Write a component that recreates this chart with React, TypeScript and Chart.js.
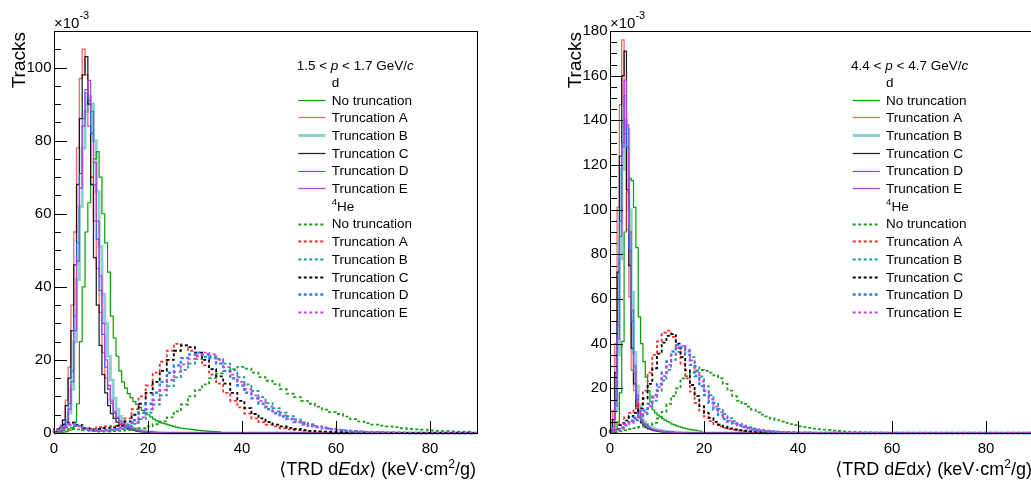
import React, { useEffect, useRef } from 'react';
import { Chart, registerables } from 'chart.js';

Chart.register(...registerables);

// ---------------- data ----------------
const X_MAX = 90;
const X_TICKS_MAX = 80;
const truncationLabels = ['No truncation', 'Truncation A', 'Truncation B', 'Truncation C', 'Truncation D', 'Truncation E'];

// Left panel: 1.5 < p < 1.7 GeV/c
const leftMomentum = ['1.5', '1.7'];
const leftYMax = 110;
const leftDBin = 0.6;
const leftHeBin = 1.5;
const leftDNone = [0, 0, 0.05, 0.1, 0.2, 0.4, 0.8, 1.5, 3, 8, 25, 40, 55, 63, 70, 75, 77, 70, 60, 52, 44, 32, 26, 21, 17, 14, 12.3, 10.8, 9.6, 8.6, 7.8, 7, 6.2, 5.6, 5, 4.4, 3.8, 3.3, 3, 2.7, 2.5, 2.2, 2, 1.8, 1.6, 1.4, 1.3, 1.2, 1.1, 1, 0.9, 0.8, 0.7, 0.65, 0.6, 0.5, 0.45, 0.4, 0.35, 0.3];
const leftDTruncA = [0, 0.1, 0.4, 1.2, 3.5, 9, 18, 35, 55, 78, 97, 105, 98, 84, 70, 58, 45, 33, 22, 15, 12, 8.5, 5.5, 4.2, 3.2, 2.5, 2, 1.6, 1.3, 1, 0.8, 0.6, 0.5, 0.4, 0.3, 0.25, 0.2, 0.15, 0.1, 0.08, 0.05];
const leftDTruncB = [0, 0.05, 0.15, 0.4, 1, 2.5, 5.5, 12, 25, 42, 62, 78, 88, 92, 90, 80, 66, 51, 38, 30, 21, 14.5, 9.5, 6.5, 4.5, 3.3, 2.5, 1.9, 1.5, 1.2, 0.9, 0.7, 0.55, 0.4, 0.3, 0.25, 0.2, 0.15, 0.1, 0.05];
const leftDTruncC = [0, 0.1, 0.5, 1.5, 3.5, 7.5, 15, 28, 46, 68, 86, 98, 103, 90, 68, 48, 35, 24, 16, 11, 7.5, 5.3, 4, 3, 2.3, 1.8, 1.4, 1.1, 0.9, 0.7, 0.5, 0.4, 0.3, 0.25, 0.2, 0.15, 0.1, 0.08, 0.05];
const leftDTruncD = [0, 0.05, 0.2, 0.6, 1.5, 3.5, 8, 17, 32, 52, 71, 86, 94, 91, 82, 68, 53, 39, 27, 18, 12, 8, 5.5, 4, 3, 2.3, 1.8, 1.4, 1.1, 0.9, 0.7, 0.5, 0.4, 0.3, 0.25, 0.2, 0.15, 0.1, 0.08, 0.05];
const leftDTruncE = [0, 0.05, 0.15, 0.5, 1.2, 3, 6.5, 14, 28, 47, 67, 84, 93, 96.5, 88, 74, 58, 43, 30, 20, 13, 9, 6, 4.3, 3.2, 2.5, 2, 1.6, 1.2, 1, 0.8, 0.6, 0.45, 0.35, 0.3, 0.2, 0.15, 0.1, 0.08, 0.05];
const leftHeNone = [0, 0.3, 0.8, 1.1, 1, 0.7, 0.5, 0.4, 0.4, 0.5, 0.6, 0.8, 1, 1.3, 1.8, 2.4, 3.2, 4.3, 5.9, 7.8, 10, 11.8, 13.3, 15, 16.3, 17, 17.5, 18.1, 17.6, 16.5, 15.3, 14.3, 13.4, 12, 10.8, 9.8, 8.8, 8, 7.2, 6.4, 5.7, 5.2, 4.5, 3.8, 3.2, 2.7, 2.3, 2, 1.8, 1.6, 1.3, 1.1, 1, 0.9, 0.7, 0.6, 0.5, 0.45, 0.4, 0.35];
const leftHeTruncA = [0.2, 1, 2.2, 2.6, 2, 1.2, 1.2, 1.6, 1.8, 1.9, 2.4, 4, 6.5, 10, 13, 16.5, 19.5, 22.5, 24.4, 24, 22.5, 21, 18.5, 16, 13.5, 11, 8.8, 7, 5.3, 4, 3, 2.3, 1.8, 1.3, 1, 0.8, 0.6, 0.45, 0.35, 0.3, 0.2, 0.15, 0.1, 0.1, 0.05];
const leftHeTruncB = [0.1, 0.6, 1.6, 2.1, 1.8, 1.1, 0.7, 0.6, 0.6, 0.8, 1.1, 1.6, 2.5, 3.8, 5.6, 7.8, 10.3, 12.8, 15.2, 17.3, 19, 20.2, 20.8, 21, 20.3, 19, 17.2, 15.3, 13.3, 11.5, 9.8, 8.2, 6.8, 5.6, 4.6, 3.7, 3, 2.4, 1.9, 1.5, 1.2, 0.9, 0.7, 0.55, 0.4, 0.3, 0.25, 0.2, 0.15, 0.1];
const leftHeTruncC = [0.2, 1, 2.3, 2.8, 2.2, 1.3, 1, 1.1, 1.3, 1.5, 2, 3.2, 5, 8, 11, 14, 17, 20, 22.5, 24, 23.5, 22, 20, 17.5, 15.5, 13.5, 11, 8.8, 6.8, 5.2, 4, 3, 2.3, 1.8, 1.4, 1.1, 0.8, 0.6, 0.45, 0.35, 0.25, 0.2, 0.15, 0.1, 0.08];
const leftHeTruncD = [0.1, 0.8, 2, 2.5, 2, 1.2, 0.8, 0.7, 0.8, 1, 1.4, 2.2, 3.5, 5.5, 8, 11, 14, 16.5, 18.5, 20.5, 21.5, 22, 21.5, 20.5, 19, 17, 15, 13, 11, 9.5, 8, 6.5, 5.4, 4.5, 3.8, 3, 2.4, 1.9, 1.6, 1.3, 1, 0.8, 0.6, 0.45, 0.35, 0.25, 0.2, 0.15, 0.1, 0.1, 0.05];
const leftHeTruncE = [0.1, 0.7, 1.8, 2.3, 1.9, 1.2, 0.8, 0.6, 0.7, 0.9, 1.2, 1.8, 2.8, 4.3, 6.5, 9, 11.8, 14.5, 16.8, 18.8, 20.3, 21.3, 22, 21.5, 20, 18, 16, 14, 12, 10.3, 8.7, 7.2, 5.9, 4.8, 3.9, 3.1, 2.5, 2, 1.6, 1.3, 1, 0.8, 0.6, 0.45, 0.35, 0.25, 0.2, 0.15, 0.1, 0.08];

// Right panel: 4.4 < p < 4.7 GeV/c
const rightMomentum = ['4.4', '4.7'];
const rightYMax = 180;
const rightDBin = 0.5;
const rightHeBin = 1.0;
const rightDNone = [0, 0, 0.3, 1.5, 5, 18, 41, 90, 108, 114, 113, 101, 83, 52, 40, 32, 25, 19, 14, 10.3, 9, 8, 7.2, 6.5, 5.8, 5.2, 4.6, 4, 3.6, 3.2, 2.8, 2.5, 2.2, 1.9, 1.7, 1.5, 1.3, 1.15, 1, 0.9];
const rightDTruncA = [0, 1.5, 10, 40, 101, 147, 176, 134, 91, 61, 28, 19, 11, 7, 5, 3.8, 3, 2.4, 2, 1.6, 1.3, 1.1, 0.9, 0.7, 0.6, 0.5, 0.4, 0.35, 0.3, 0.25, 0.2, 0.15, 0.1, 0.1, 0.08, 0.06, 0.05, 0.04, 0.03, 0.02];
const rightDTruncB = [0, 0.3, 2, 10, 35, 78, 118, 140, 136, 100, 63, 36, 21, 12.5, 7.5, 5, 3.7, 2.9, 2.3, 1.8, 1.45, 1.2, 1, 0.8, 0.65, 0.52, 0.42, 0.34, 0.27, 0.22, 0.18, 0.14, 0.1, 0.08];
const rightDTruncC = [0, 1, 6, 27, 72, 124, 160, 171, 109, 75, 38, 22, 12, 7, 4.5, 3.2, 2.4, 1.9, 1.5, 1.2, 1, 0.8, 0.65, 0.5, 0.4, 0.35, 0.3, 0.25, 0.2, 0.15, 0.12, 0.1, 0.08, 0.06, 0.05];
const rightDTruncD = [0, 0.5, 3, 15, 48, 95, 130, 151, 128, 82, 50, 27, 15, 9, 5.5, 4, 3, 2.4, 1.9, 1.5, 1.2, 1, 0.8, 0.65, 0.5, 0.4, 0.35, 0.3, 0.25, 0.2, 0.15, 0.12, 0.1, 0.08];
const rightDTruncE = [0, 0.4, 2.5, 12, 42, 88, 128, 158, 138, 90, 55, 30, 17, 10, 6, 4.3, 3.2, 2.5, 2, 1.6, 1.3, 1.05, 0.85, 0.7, 0.55, 0.45, 0.38, 0.3, 0.25, 0.2, 0.16, 0.13, 0.1, 0.08];
const rightHeNone = [0, 0.1, 0.3, 0.7, 1.2, 1.7, 2.2, 2.7, 3.2, 3.8, 4.5, 6.5, 9.5, 13, 16.5, 20, 24.5, 25.5, 27, 28, 28.2, 27.8, 27, 25.8, 24.5, 22, 19, 16.5, 14.5, 13, 11.8, 10.5, 9.2, 8.2, 7.4, 6.5, 5.8, 5.1, 4.5, 4, 3.5, 3, 2.6, 2.3, 2, 1.7, 1.5, 1.3, 1.1, 0.9, 0.75, 0.6, 0.5, 0.42, 0.35, 0.28, 0.22, 0.18, 0.14, 0.1];
const rightHeTruncA = [0, 0.5, 2, 4.5, 7, 9, 11, 13, 19, 27, 35, 41, 45, 45.8, 43, 38, 31, 24.5, 18.5, 13.5, 10, 7.3, 5.3, 4, 3, 2.3, 1.8, 1.4, 1.1, 0.85, 0.65, 0.5, 0.4, 0.3, 0.25, 0.2, 0.15, 0.12, 0.1, 0.08, 0.05];
const rightHeTruncB = [0, 0.25, 0.8, 2, 3.3, 4.6, 5.7, 6.8, 8.5, 11, 14.5, 18.8, 23.5, 28.3, 32.8, 36.3, 38, 37.2, 34, 29.8, 25.3, 21, 17, 13.6, 10.8, 8.5, 6.7, 5.3, 4.2, 3.3, 2.6, 2.05, 1.6, 1.25, 1, 0.8, 0.63, 0.5, 0.4, 0.32, 0.25, 0.2, 0.16, 0.13, 0.1];
const rightHeTruncC = [0, 0.4, 1.5, 3.5, 5.5, 7.5, 9, 11, 15.5, 22, 29, 35.5, 40.5, 43.5, 44.3, 40, 34, 28, 21.5, 16.5, 12, 9, 6.8, 5, 3.7, 2.8, 2.1, 1.6, 1.25, 1, 0.8, 0.6, 0.48, 0.38, 0.3, 0.24, 0.19, 0.15, 0.12, 0.1];
const rightHeTruncD = [0, 0.3, 1, 2.5, 4, 5.5, 6.8, 8, 10, 13, 17, 22, 27, 32, 36.5, 39.4, 38.5, 35, 30.5, 25.5, 21, 17, 13.5, 10.5, 8, 6.2, 5, 4.2, 3.4, 2.7, 2.1, 1.6, 1.2, 0.9, 0.7, 0.55, 0.45, 0.35, 0.28, 0.22, 0.18, 0.14, 0.11, 0.09, 0.07];
const rightHeTruncE = [0, 0.3, 0.9, 2.2, 3.6, 5, 6.2, 7.4, 9.2, 12, 15.8, 20.5, 25.5, 30.5, 35, 38.3, 39, 36.5, 32.5, 27.5, 23, 18.8, 15, 11.8, 9.2, 7.1, 5.5, 4.3, 3.4, 2.7, 2.1, 1.65, 1.3, 1, 0.8, 0.63, 0.5, 0.4, 0.32, 0.25, 0.2, 0.16, 0.12, 0.1];

// ---------------- styles ----------------
const FONT_STACK = '"Liberation Sans", Arial, Helvetica, "DejaVu Sans", sans-serif';
const dStyles = [
  { color: '#00a000', width: 1.2 },
  { color: 'rgba(255,0,0,0.6)', width: 1.3 },
  { color: 'rgba(0,150,150,0.45)', width: 3 },
  { color: 'rgba(0,0,0,0.85)', width: 1.3 },
  { color: '#1f66ff', width: 1.1 },
  { color: '#b444d8', width: 1.3 },
];
const heStyles = [
  { color: '#1aa01a', width: 1.8 },
  { color: '#ff2a2a', width: 1.8 },
  { color: '#1a9a9a', width: 1.8 },
  { color: '#000000', width: 1.8 },
  { color: '#2f80ff', width: 2.4 },
  { color: '#d040e0', width: 1.8 },
];
const HE_DASH = [3, 2.5];

type Piece = { t: string; it?: boolean; sup?: boolean };

function fontOf(size: number, italic?: boolean) {
  return `${italic ? 'italic ' : ''}${size}px ${FONT_STACK}`;
}

function richWidth(ctx: CanvasRenderingContext2D, pieces: Piece[], size: number, supSize: number) {
  let w = 0;
  for (const p of pieces) {
    ctx.font = fontOf(p.sup ? supSize : size, p.it);
    w += ctx.measureText(p.t).width;
  }
  return w;
}

function drawRich(ctx: CanvasRenderingContext2D, pieces: Piece[], x: number, baseline: number, size: number, supSize: number, supRaise: number) {
  let cx = x;
  ctx.textAlign = 'left';
  ctx.textBaseline = 'alphabetic';
  for (const p of pieces) {
    ctx.font = fontOf(p.sup ? supSize : size, p.it);
    ctx.fillText(p.t, cx, p.sup ? baseline - supRaise : baseline);
    cx += ctx.measureText(p.t).width;
  }
}

function histPoints(values: number[], bin: number) {
  const pts = values.map((v, i) => ({ x: i * bin, y: v }));
  pts.push({ x: values.length * bin, y: 0 });
  pts.push({ x: X_MAX, y: 0 });
  return pts;
}

type PanelDef = {
  momentum: string[];
  yMax: number;
  dBin: number;
  heBin: number;
  d: number[][];
  he: number[][];
  legendDx: number;
};

const panels: PanelDef[] = [
  {
    momentum: leftMomentum, yMax: leftYMax, dBin: leftDBin, heBin: leftHeBin,
    d: [leftDNone, leftDTruncA, leftDTruncB, leftDTruncC, leftDTruncD, leftDTruncE],
    he: [leftHeNone, leftHeTruncA, leftHeTruncB, leftHeTruncC, leftHeTruncD, leftHeTruncE],
    legendDx: 0,
  },
  {
    momentum: rightMomentum, yMax: rightYMax, dBin: rightDBin, heBin: rightHeBin,
    d: [rightDNone, rightDTruncA, rightDTruncB, rightDTruncC, rightDTruncD, rightDTruncE],
    he: [rightHeNone, rightHeTruncA, rightHeTruncB, rightHeTruncC, rightHeTruncD, rightHeTruncE],
    legendDx: -1.6,
  },
];

function makeDecor(p: PanelDef) {
  return {
    id: 'rootDecor',
    afterDraw(chart: any) {
      const { ctx, chartArea: a, scales } = chart;
      const xs = scales.x;
      const ys = scales.y;
      ctx.save();
      ctx.setLineDash([]);
      ctx.fillStyle = '#000';
      ctx.strokeStyle = '#000';
      ctx.lineWidth = 1;
      // frame
      ctx.strokeRect(a.left + 0.5, a.top + 0.5, a.right - a.left, a.bottom - a.top);
      // ticks
      ctx.beginPath();
      for (let v = 0; v <= p.yMax + 1e-6; v += 5) {
        const y = Math.round(ys.getPixelForValue(v)) + 0.5;
        const len = v % 20 === 0 ? 13 : 7;
        ctx.moveTo(a.left, y);
        ctx.lineTo(a.left + len, y);
      }
      for (let v = 0; v <= X_TICKS_MAX; v += 20) {
        const x = Math.round(xs.getPixelForValue(v)) + 0.5;
        ctx.moveTo(x, a.bottom);
        ctx.lineTo(x, a.bottom - 12);
      }
      ctx.stroke();

      // exponent
      drawRich(ctx, [{ t: '×10' }, { t: '-3', sup: true }], a.left, 28.3, 15, 11, 9.5);

      // y title
      ctx.save();
      ctx.translate(a.left - 29, a.top + 1);
      ctx.rotate(-Math.PI / 2);
      ctx.font = fontOf(19);
      ctx.textAlign = 'right';
      ctx.textBaseline = 'alphabetic';
      ctx.fillText('Tracks', 0, 0);
      ctx.restore();

      // x title
      const xt: Piece[] = [
        { t: '⟨TRD d' }, { t: 'E', it: true }, { t: 'd' }, { t: 'x', it: true },
        { t: '⟩ (keV·cm' }, { t: '2', sup: true }, { t: '/g)' },
      ];
      const xw = richWidth(ctx, xt, 18, 12);
      drawRich(ctx, xt, a.right - 1 - xw, 475, 18, 12, 7);

      // legend
      const dx = p.legendDx;
      const fs = 13.5;
      const lx0 = 298.3 + dx;
      const lx1 = 325.5 + dx;
      const tx = 331.7 + dx;
      const rowY = (k: number) => 82 + 17.7 * k;
      const base = (yc: number) => yc + 4.8;
      drawRich(ctx, [
        { t: `${p.momentum[0]} < ` }, { t: 'p', it: true },
        { t: ` < ${p.momentum[1]} GeV/` }, { t: 'c', it: true },
      ], 296.7 + dx, base(65), fs, 10, 6);
      drawRich(ctx, [{ t: 'd' }], tx, base(rowY(0)), fs, 10, 6);
      drawRich(ctx, [{ t: '4', sup: true }, { t: 'He' }], tx, base(rowY(7)), fs, 9.5, 6);
      const entry = (k: number, style: { color: string; width: number }, dashed: boolean, label: string) => {
        const yc = Math.round(rowY(k)) + 0.5;
        ctx.save();
        ctx.strokeStyle = style.color;
        ctx.lineWidth = style.width;
        ctx.setLineDash(dashed ? HE_DASH : []);
        ctx.beginPath();
        ctx.moveTo(lx0, yc);
        ctx.lineTo(lx1, yc);
        ctx.stroke();
        ctx.restore();
        ctx.fillStyle = '#000';
        drawRich(ctx, [{ t: label }], tx, base(rowY(k)), fs, 10, 6);
      };
      truncationLabels.forEach((lab, i) => entry(1 + i, dStyles[i], false, lab));
      truncationLabels.forEach((lab, i) => entry(8 + i, heStyles[i], true, lab));
      ctx.restore();
    },
  };
}

function buildDatasets(p: PanelDef) {
  const list: any[] = [];
  p.d.forEach((vals, i) => {
    list.push({
      label: `d ${truncationLabels[i]}`,
      data: histPoints(vals, p.dBin),
      borderColor: dStyles[i].color,
      borderWidth: dStyles[i].width,
      stepped: 'after',
      pointRadius: 0,
      fill: false,
      clip: false,
    });
  });
  p.he.forEach((vals, i) => {
    list.push({
      label: `4He ${truncationLabels[i]}`,
      data: histPoints(vals, p.heBin),
      borderColor: heStyles[i].color,
      borderWidth: heStyles[i].width,
      borderDash: HE_DASH,
      stepped: 'after',
      pointRadius: 0,
      fill: false,
      clip: false,
    });
  });
  // chart.js draws index 0 last; reverse so the first listed ends at the bottom
  return list.reverse();
}

const CANVAS_W = 515;
const CANVAS_H = 483;

function Panel({ p, left }: { p: PanelDef; left: number }) {
  const ref = useRef<HTMLCanvasElement | null>(null);
  useEffect(() => {
    if (!ref.current) return;
    const tickFont = { family: FONT_STACK, size: 15 };
    const chart = new Chart(ref.current, {
      type: 'line',
      data: { datasets: buildDatasets(p) },
      options: {
        animation: false,
        responsive: false,
        devicePixelRatio: 1,
        layout: { padding: { left: 0, top: 31, right: 38, bottom: 0 } },
        plugins: { legend: { display: false }, tooltip: { enabled: false } },
        elements: { point: { radius: 0 }, line: { tension: 0 } },
        scales: {
          x: {
            type: 'linear',
            min: 0,
            max: X_MAX,
            grid: { display: false, drawTicks: false },
            border: { display: false },
            ticks: { stepSize: 20, includeBounds: false, autoSkip: false, maxRotation: 0, font: tickFont, color: '#000', padding: 7 },
            afterFit: (s: any) => { s.height = 50; },
          },
          y: {
            type: 'linear',
            min: 0,
            max: p.yMax,
            grid: { display: false, drawTicks: false },
            border: { display: false },
            ticks: { stepSize: 20, includeBounds: false, autoSkip: false, font: tickFont, color: '#000', padding: 2.5 },
            afterFit: (s: any) => { s.width = 54; },
          },
        },
      } as any,
      plugins: [makeDecor(p)],
    });
    return () => chart.destroy();
  }, [p]);
  return (
    <canvas
      ref={ref}
      width={CANVAS_W}
      height={CANVAS_H}
      style={{ position: 'absolute', left, top: 0, width: CANVAS_W, height: CANVAS_H, display: 'block' }}
    />
  );
}

export default function App() {
  return (
    <div style={{ position: 'fixed', left: 0, top: 0, width: 1031, height: 483, overflow: 'hidden', background: '#fff' }}>
      <Panel p={panels[0]} left={0} />
      <Panel p={panels[1]} left={556} />
    </div>
  );
}
